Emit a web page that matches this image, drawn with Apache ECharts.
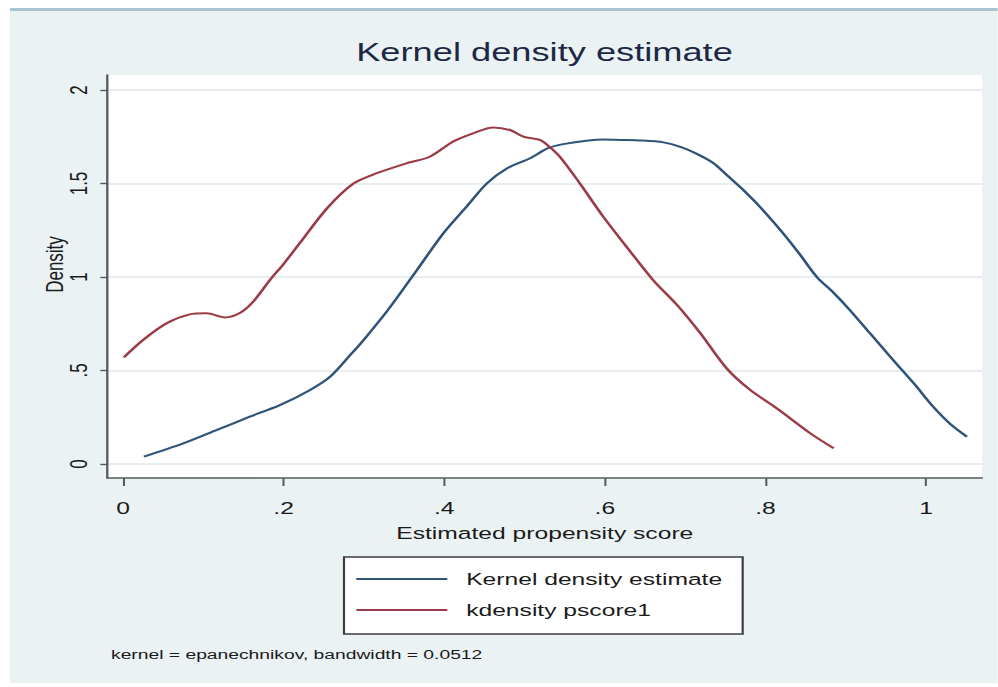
<!DOCTYPE html>
<html>
<head>
<meta charset="utf-8">
<script src="https://cdn.jsdelivr.net/npm/echarts@6/dist/echarts.min.js"></script>
<style>
  html, body { margin: 0; padding: 0; background: #ffffff; overflow: hidden; width: 998px; height: 687px; }
  #chart { height: 687px; transform-origin: 0 0; }
</style>
</head>
<body>
<div id="chart"></div>
<script>
// Kernel density estimate of the estimated propensity score
const kdeScore = [0.026, 0.075, 0.117, 0.158, 0.196, 0.233, 0.258, 0.283, 0.300, 0.330, 0.366, 0.399, 0.428, 0.453, 0.478, 0.507, 0.530, 0.550, 0.577, 0.600, 0.619, 0.645, 0.673, 0.695, 0.714, 0.735, 0.752, 0.770, 0.793, 0.822, 0.843, 0.864, 0.885, 0.905, 0.930, 0.959, 0.985, 1.009, 1.030, 1.051];
const kdeDensity = [0.039, 0.110, 0.182, 0.253, 0.316, 0.396, 0.467, 0.583, 0.665, 0.824, 1.037, 1.234, 1.377, 1.500, 1.580, 1.635, 1.690, 1.712, 1.729, 1.735, 1.733, 1.730, 1.720, 1.695, 1.660, 1.610, 1.545, 1.475, 1.376, 1.234, 1.120, 1.000, 0.915, 0.824, 0.700, 0.556, 0.430, 0.306, 0.215, 0.146];

// kdensity of pscore1
const pscoreGrid = [0.001, 0.025, 0.054, 0.083, 0.104, 0.127, 0.146, 0.162, 0.183, 0.200, 0.220, 0.254, 0.287, 0.316, 0.353, 0.382, 0.411, 0.436, 0.461, 0.482, 0.499, 0.519, 0.530, 0.544, 0.569, 0.598, 0.627, 0.660, 0.690, 0.719, 0.752, 0.781, 0.814, 0.856, 0.885];
const pscoreDensity = [0.570, 0.663, 0.752, 0.800, 0.806, 0.784, 0.809, 0.868, 0.984, 1.070, 1.180, 1.367, 1.500, 1.555, 1.608, 1.643, 1.724, 1.768, 1.800, 1.786, 1.750, 1.733, 1.700, 1.643, 1.500, 1.323, 1.162, 0.984, 0.850, 0.699, 0.510, 0.396, 0.298, 0.164, 0.084];

const xTickValues = [0, 0.2, 0.4, 0.6, 0.8, 1];
const yTickValues = [0, 0.5, 1, 1.5, 2];
const seriesNames = ['Kernel density estimate', 'kdensity pscore1'];
const noteText = 'kernel = epanechnikov, bandwidth = 0.0512';

// The chart is laid out on a narrower canvas and stretched horizontally to the page width,
// which gives the wide lettering of the exported graph.
const STRETCH = 1.45;
const PAGE_W = 998, PAGE_H = 687;
const innerW = PAGE_W / STRETCH;
const px = v => v / STRETCH;

const FONT = '"Liberation Sans", Arial, Helvetica, sans-serif';
const INK = '#1a1a1a';
const AXIS = '#555b5e';
const BLUE = '#2f5479';
const RED = '#9a3d47';

const el = document.getElementById('chart');
el.style.width = innerW + 'px';
el.style.transform = 'scaleX(' + STRETCH + ')';

const tickFmt = v => (v === 0 ? '0' : String(+v.toFixed(2)).replace(/^0\./, '.'));
const pairs = (xs, ys) => xs.map((x, i) => [x, ys[i]]);

const chart = echarts.init(el, null, { renderer: 'svg', width: innerW, height: PAGE_H });

chart.setOption({
  animation: false,
  textStyle: { fontFamily: FONT },
  graphic: [
    { type: 'rect', z: -10, silent: true,
      shape: { x: px(10), y: 11, width: innerW, height: 672 }, style: { fill: '#eaf2f3' } },
    { type: 'rect', z: -9, silent: true,
      shape: { x: px(10), y: 8, width: innerW, height: 3 }, style: { fill: '#a9c5d3' } },
    { type: 'text', x: px(111), y: 655, silent: true,
      style: { text: noteText, fontSize: 13.3, fontFamily: FONT, fill: INK, verticalAlign: 'middle' } }
  ],
  title: {
    text: 'Kernel density estimate',
    left: px(544.5),
    textAlign: 'center',
    top: 38,
    padding: 0,
    textStyle: { fontSize: 25, fontWeight: 'normal', color: '#1e2844', lineHeight: 30, fontFamily: FONT }
  },
  legend: {
    data: seriesNames,
    orient: 'vertical',
    left: px(344),
    top: 557,
    padding: [12, 14, 14, 7.5],
    itemWidth: px(91),
    itemHeight: 20,
    itemGap: 11,
    itemStyle: { opacity: 0 },
    backgroundColor: '#ffffff',
    borderColor: '#3c3c3c',
    borderWidth: 1.5,
    borderRadius: 0,
    textStyle: { fontSize: 17, color: INK, lineHeight: 20, padding: [0, 0, 0, 8], fontFamily: FONT }
  },
  grid: {
    left: px(107.5),
    right: innerW - px(982),
    top: 75,
    bottom: PAGE_H - 478,
    show: true,
    backgroundColor: '#ffffff',
    borderWidth: 0
  },
  xAxis: {
    type: 'value',
    min: -0.0193,
    max: 1.0697,
    name: 'Estimated propensity score',
    nameLocation: 'middle',
    nameGap: 46,
    nameTextStyle: { fontSize: 17, color: INK, fontFamily: FONT },
    axisLine: { show: true, onZero: false, lineStyle: { color: AXIS, width: 1.6 } },
    axisTick: { show: true, length: 8, customValues: xTickValues, lineStyle: { color: AXIS, width: 1.4 } },
    axisLabel: { customValues: xTickValues, formatter: tickFmt, margin: 21, fontSize: 17, color: INK, fontFamily: FONT },
    splitLine: { show: false }
  },
  yAxis: {
    type: 'value',
    min: -0.0749,
    max: 2.0802,
    name: 'Density',
    nameLocation: 'middle',
    nameGap: 28,
    nameMoveOverlap: false,
    nameTextStyle: { fontSize: 17, color: INK, padding: [0, 0, 0, 24], fontFamily: FONT },
    axisLine: { show: true, onZero: false, lineStyle: { color: AXIS, width: 1.6 } },
    axisTick: { show: true, length: 5, customValues: yTickValues, lineStyle: { color: AXIS, width: 1.4 } },
    axisLabel: { customValues: yTickValues, formatter: tickFmt, rotate: 90, margin: 12, fontSize: 17, color: INK, fontFamily: FONT },
    splitLine: { show: true, lineStyle: { color: '#e8eeee', width: 2 } }
  },
  series: [
    {
      name: seriesNames[0],
      type: 'line',
      data: pairs(kdeScore, kdeDensity),
      symbol: 'none',
      smooth: 0.3,
      color: BLUE,
      lineStyle: { color: BLUE, width: 2 }
    },
    {
      name: seriesNames[1],
      type: 'line',
      data: pairs(pscoreGrid, pscoreDensity),
      symbol: 'none',
      smooth: 0.3,
      color: RED,
      lineStyle: { color: RED, width: 2 }
    }
  ]
});
</script>
</body>
</html>
